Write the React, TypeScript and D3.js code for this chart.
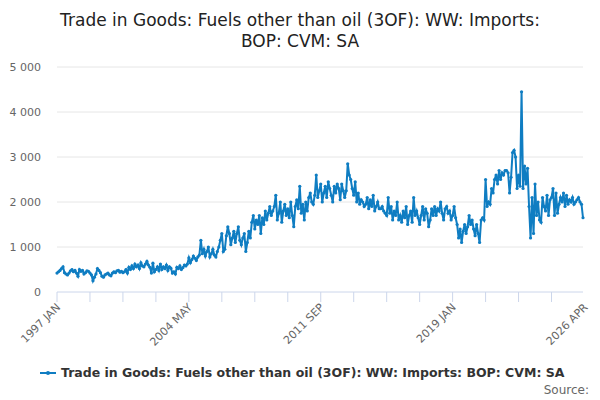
import * as d3 from 'd3';

const title1 = 'Trade in Goods: Fuels other than oil (3OF): WW: Imports:';
const title2 = 'BOP: CVM: SA';
const seriesName = 'Trade in Goods: Fuels other than oil (3OF): WW: Imports: BOP: CVM: SA';
const startYear = 1997;
const yTicks = [0, 1000, 2000, 3000, 4000, 5000];
const xLabels = ['1997 JAN', '2004 MAY', '2011 SEP', '2019 JAN', '2026 APR'];

const values: number[] = [
  420, 450, 480, 520, 560, 430, 400, 380, 420, 470, 500, 450,
  480, 420, 350, 500, 460, 480, 400, 430, 470, 460, 420, 380,
  250, 330, 400, 520, 480, 430, 350, 330, 380, 400, 420, 380,
  360, 420, 450, 430, 470, 480, 440, 460, 430, 450, 500, 420,
  550, 500, 580, 520, 620, 560, 600, 520, 650, 580, 560, 620,
  680, 600, 550, 420, 640, 450, 500, 560, 480, 620, 500, 560,
  520, 600, 480, 560, 530, 420, 450, 400, 550, 520, 580, 500,
  540, 600, 580, 620, 760, 650, 720, 800, 750, 700, 780, 820,
  1150, 850, 950, 800, 900, 1000, 780, 850, 950, 820, 780, 900,
  1000, 1150, 1300, 900, 950, 1250, 1450, 1300, 1050, 1200, 1350, 1100,
  1300, 1450, 1150, 1050, 1200, 1300, 900, 1100, 1350, 1200, 1550, 1700,
  1400, 1600, 1500, 1700, 1300, 1650, 1500, 1800, 1600, 1750, 1900, 1700,
  1800, 1900, 2150, 1600, 1750, 2000, 1550, 1800, 1950, 1700, 1850, 1650,
  2000, 1700, 1450, 1900, 2050, 1850, 2350, 1750, 1950, 1600, 2000, 1800,
  2100, 2200, 2000, 1950, 2150, 2600, 2100, 2250, 2400, 2000, 2200, 2350,
  2100, 2450, 2300, 2150, 2000, 2350, 2200, 2400, 2300, 2050, 2400, 2250,
  2100, 2250, 2850, 2600, 2500, 2300, 2150, 2450, 2000, 2200, 1950, 2050,
  2000, 1900, 1950, 2100, 1850, 2050, 1900, 2150, 1800, 1900, 2000, 1850,
  1850, 1900, 1800, 1750, 1700, 2100, 1750, 1900, 1600, 1800, 1700, 2000,
  1600, 1700, 1550, 1800, 1650, 1900, 1500, 1700, 1800, 1550, 2100, 1700,
  1800, 1650, 1500, 1700, 1900, 1600, 1850, 1750, 1450, 1600, 1850, 1700,
  1900, 1700, 1850, 1800, 2000, 1750, 1600, 1850, 1900, 1750, 1800, 1600,
  1700, 1900, 1650, 1500, 1200, 1400, 1100, 1350, 1500, 1300, 1450, 1700,
  1500, 1600, 1400, 1250, 1500, 1300, 1100, 1600, 1650, 1600, 2500, 1900,
  2000, 1950, 2300, 2200, 2500, 2600, 2400, 2700, 2500, 2650, 2600, 2700,
  2700, 2650, 2200, 2550, 3100, 3150, 3000, 2300, 2600, 2350, 4450, 2300,
  2800, 2400, 2750, 1900, 1200, 2100, 1300, 2400, 1700, 2000, 1600, 1550,
  2100, 1900, 1800, 2150, 1700, 2050, 2100, 2300, 1700, 2200, 1750, 1950,
  2100, 2000, 2200, 1900, 2150, 1950, 2050, 2000, 2100, 1950, 2000, 2050,
  2100, 2000, 1950, 1650,
];

const W = 600, H = 400;
const left = 57, right = 583, top = 67, bottom = 292;
const blue = '#0f7dc2';
const font = '"DejaVu Sans", sans-serif';

export default function App() {
  const n = values.length - 1;
  const x = d3.scaleLinear().domain([0, n]).range([left, right]);
  const y = d3.scaleLinear().domain([0, 5000]).range([bottom, top]);
  const line = d3.line<number>().x((_, i) => x(i)).y(d => y(d));
  const minor = d3.range(0, n + 1, 22);
  const fmt = (v: number) => d3.format(',')(v).replace(',', ' ');

  return (
    <svg width={W} height={H} style={{ position: 'absolute', left: 0, top: 0, fontFamily: font }}>
      <rect width={W} height={H} fill="#fff" />
      <text x={W / 2} y={26} textAnchor="middle" fontSize={17} fill="#222">{title1}</text>
      <text x={W / 2} y={47} textAnchor="middle" fontSize={17} fill="#222">{title2}</text>
      {yTicks.map(t => (
        <g key={t}>
          {t > 0 && <line x1={left} x2={right} y1={y(t)} y2={y(t)} stroke="#e6e6e6" />}
          <text x={left - 16} y={y(t) + 4} textAnchor="end" fontSize={11} fill="#666">{fmt(t)}</text>
        </g>
      ))}
      <line x1={left} x2={right} y1={bottom} y2={bottom} stroke="#ccd6eb" />
      {minor.map(m => (
        <line key={m} x1={x(m)} x2={x(m)} y1={bottom} y2={bottom + 10} stroke="#ccd6eb" />
      ))}
      {xLabels.map((l, i) => (
        <text key={l} transform={`translate(${x(i * 88) + 4},${bottom + 16}) rotate(-45)`}
          textAnchor="end" fontSize={11} fill="#666">{l}</text>
      ))}
      <path d={line(values) || ''} fill="none" stroke={blue} strokeWidth={2} />
      {values.map((v, i) => (
        <circle key={i} cx={x(i)} cy={y(v)} r={1.6} fill={blue} />
      ))}
      <line x1={40} x2={56} y1={373} y2={373} stroke={blue} strokeWidth={2} />
      <circle cx={48} cy={373} r={2} fill={blue} />
      <text x={61} y={377} fontSize={12.5} fontWeight="bold" fill="#333">{seriesName}</text>
      <text x={589} y={394} textAnchor="end" fontSize={12} fill="#666">Source:</text>
    </svg>
  );
}
